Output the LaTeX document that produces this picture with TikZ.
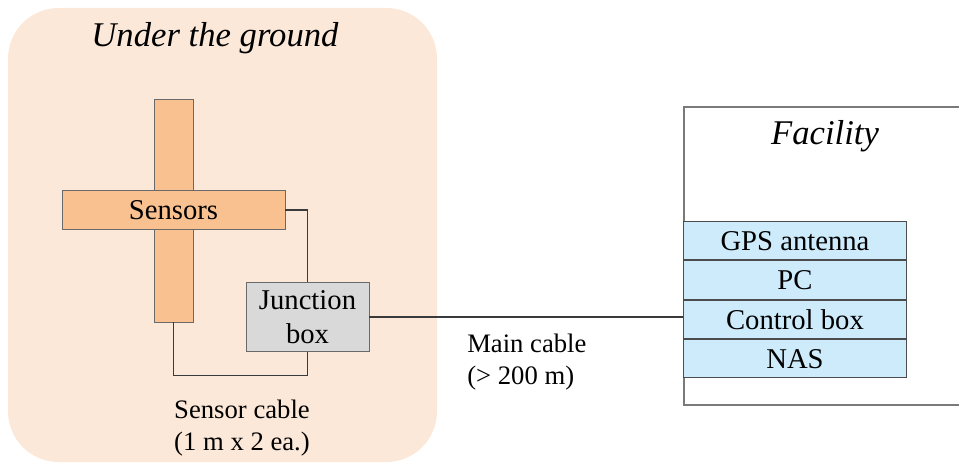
\documentclass[tikz,border=0pt]{standalone}
\usepackage{xcolor}
\usepackage{fontspec}
\setmainfont{Liberation Serif}
\usepackage{tikz}
\usetikzlibrary{positioning}
\definecolor{soil}{HTML}{FCE8D9}
\definecolor{sensorFill}{HTML}{F9C190}
\definecolor{jboxFill}{HTML}{D9D9D9}
\definecolor{rackFill}{HTML}{CDEBFB}
\definecolor{edge}{HTML}{6A6A6A}
\definecolor{cable}{HTML}{3A3A3A}
\definecolor{wall}{HTML}{7A7A7A}

\begin{document}
\begin{tikzpicture}[x=0.75pt,y=-0.75pt,
    part/.style={draw=edge, line width=0.7pt, inner sep=0pt,
                 font=\fontsize{21.5}{26}\selectfont},
    sensorbar/.style={part, fill=sensorFill},
    rackrow/.style={part, draw=black!70, fill=rackFill, minimum width=167.25pt,
                    minimum height=28.8pt},
    wire/.style={draw=cable, line width=0.8pt},
    note/.style={font=\fontsize{20}{24}\selectfont, inner sep=0pt},
    heading/.style={font=\fontsize{26}{30}\selectfont\itshape, inner sep=0pt}]
  \clip (0,0) rectangle (959,463);
  % underground area
  \fill[soil, rounded corners=38pt] (8,8) rectangle (437,462);
  \node[heading, anchor=base] (ground) at (215,47) {Under the ground};

  % sensor cross and junction box
  \node[sensorbar, minimum width=29.25pt, minimum height=167.25pt] (vbar) at (173.5,210.5) {};
  \node[sensorbar, minimum width=167.25pt, minimum height=29.25pt] (hbar) at (173.5,210) {Sensors};
  \node[part, fill=jboxFill, minimum width=92.25pt, minimum height=51.75pt, align=center]
      (jbox) at (307.5,317) {Junction\\box};
  \draw[wire] (hbar.east) -| (jbox.north);
  \draw[wire] (vbar.south) -- ++(0,53) coordinate (bend) -| (jbox.south);
  \node[note, align=center] (sensorcable) at (242,428) {Sensor cable\\(1 m x 2 ea.)};

  % facility
  \node[draw=wall, line width=1.3pt, anchor=north west,
        minimum width=219pt, minimum height=223.5pt] (hall) at (683,106) {};
  \node[heading, anchor=base] (hallname) at (825,145) {Facility};
  \node[rackrow, anchor=north west] (gps) at (683,221) {GPS antenna};
  \node[rackrow, below=0pt of gps] (pc) {PC};
  \node[rackrow, below=0pt of pc] (ctrl) {Control box};
  \node[rackrow, below=0pt of ctrl] (nas) {NAS};

  % main cable
  \draw[wire] (jbox.east) -- (jbox.east -| ctrl.west);
  \node[note, align=left, anchor=west] (maincable) at (467,362) {Main cable\\(> 200 m)};
\end{tikzpicture}
\end{document}
